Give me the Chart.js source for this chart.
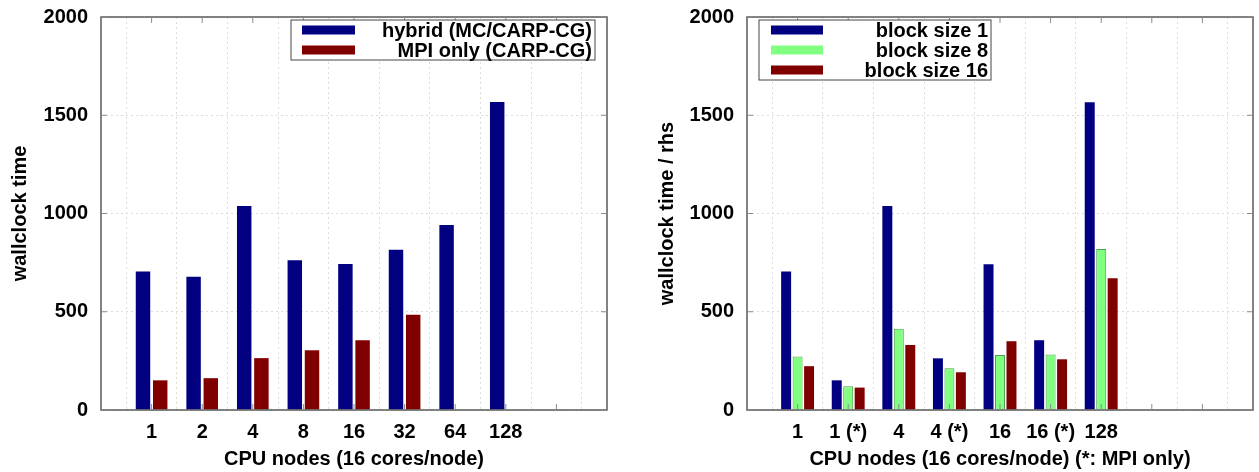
<!DOCTYPE html>
<html>
<head>
<meta charset="utf-8">
<title>Wallclock time per CPU nodes</title>
<script src="https://cdn.jsdelivr.net/npm/chart.js@4.4.1/dist/chart.umd.min.js"></script>
<style>
    html, body { margin: 0; padding: 0; background: #ffffff; }
    .panel { position: absolute; top: 0; height: 472px; }
    #leftPanel { left: 0; width: 620px; }
    #rightPanel { left: 630px; width: 629px; }
</style>
</head>
<body>
<div class="panel" id="leftPanel"><canvas id="hybridChart"></canvas></div>
<div class="panel" id="rightPanel"><canvas id="blockChart"></canvas></div>

<script>
// Left panel data
const nodeLabels = ['1', '2', '4', '8', '16', '32', '64', '128'];
const hybridTimes = [705, 678, 1038, 762, 743, 816, 942, 1567];
const mpiOnlyTimes = [151, 162, 264, 304, 355, 485, 0, 0];

// Right panel data
const blockLabels = ['1', '1 (*)', '4', '4 (*)', '16', '16 (*)', '128'];
const blockSize1 = [705, 151, 1038, 263, 742, 355, 1566];
const blockSize8 = [272, 121, 413, 212, 280, 282, 819];
const blockSize16 = [223, 114, 331, 192, 350, 258, 671];

// Shared y ticks
const yTickValues = [0, 500, 1000, 1500, 2000];

const NAVY = '#000080';
const MAROON = '#800000';
const LIGHT_GREEN = '#80ff80';
const FONT_FAMILY = '"Liberation Sans", Arial, Helvetica, sans-serif';

// x positions run 0..10 like the gnuplot axis, first group sits at 1
function padLabels(labels) {
    const out = [''].concat(labels);
    while (out.length < 11) out.push('');
    return out;
}

function padValues(values) {
    return [null].concat(values);
}

// Frame round the plot area with small inward ticks
const plotFrame = {
    id: 'plotFrame',
    afterDatasetsDraw(chart) {
        const { ctx, chartArea } = chart;
        const yScale = chart.scales.y;
        const xScale = chart.scales.x;
        ctx.save();
        ctx.strokeStyle = '#5a5a5a';
        ctx.lineWidth = 1.5;
        ctx.strokeRect(chartArea.left, chartArea.top, chartArea.right - chartArea.left, chartArea.bottom - chartArea.top);

        ctx.lineWidth = 1;
        ctx.strokeStyle = '#8a8a8a';
        ctx.beginPath();
        yTickValues.forEach(v => {
            const py = yScale.getPixelForValue(v);
            ctx.moveTo(chartArea.left, py);
            ctx.lineTo(chartArea.left + 6, py);
            ctx.moveTo(chartArea.right, py);
            ctx.lineTo(chartArea.right - 6, py);
        });
        for (let i = 1; i < 10; i++) {
            const px = xScale.getPixelForValue(i);
            ctx.moveTo(px, chartArea.bottom);
            ctx.lineTo(px, chartArea.bottom - 6);
            ctx.moveTo(px, chartArea.top);
            ctx.lineTo(px, chartArea.top + 6);
        }
        ctx.stroke();
        ctx.restore();
    }
};

// Boxed legend drawn inside the plot area
const boxedLegend = {
    id: 'boxedLegend',
    afterDraw(chart, args, opts) {
        const { ctx, chartArea } = chart;
        const datasets = chart.data.datasets;
        const x0 = opts.side === 'right'
            ? chartArea.right - opts.offsetX - opts.width
            : chartArea.left + opts.offsetX;
        const y0 = chartArea.top + opts.offsetY;
        const h = datasets.length * opts.rowHeight;

        ctx.save();
        ctx.fillStyle = '#ffffff';
        ctx.fillRect(x0, y0, opts.width, h);
        ctx.strokeStyle = '#444444';
        ctx.lineWidth = 1;
        ctx.strokeRect(x0, y0, opts.width, h);

        ctx.font = 'bold ' + opts.fontSize + 'px ' + FONT_FAMILY;
        ctx.textAlign = 'right';
        ctx.textBaseline = 'middle';
        datasets.forEach((ds, i) => {
            const cy = y0 + opts.rowHeight * (i + 0.5);
            ctx.fillStyle = ds.backgroundColor;
            ctx.fillRect(x0 + opts.swatchX, cy - opts.swatchH / 2, opts.swatchW, opts.swatchH);
            ctx.fillStyle = '#000000';
            ctx.fillText(ds.label, x0 + opts.width - 3, cy + 1);
        });
        ctx.restore();
    }
};

function buildOptions(cfg) {
    return {
        responsive: true,
        maintainAspectRatio: false,
        animation: false,
        layout: {
            padding: { top: 17, right: cfg.padRight, bottom: 0, left: 0 }
        },
        datasets: {
            bar: {
                categoryPercentage: cfg.categoryPercentage,
                barPercentage: cfg.barPercentage
            }
        },
        plugins: {
            legend: { display: false },
            tooltip: { enabled: false },
            boxedLegend: cfg.legend
        },
        scales: {
            x: {
                type: 'category',
                offset: false,
                grid: {
                    color: '#dcdcdc',
                    lineWidth: 1,
                    drawTicks: false
                },
                border: { display: false, dash: [2, 3] },
                ticks: {
                    color: '#000000',
                    padding: 10,
                    maxRotation: 0,
                    autoSkip: false,
                    font: { family: FONT_FAMILY, size: 20, weight: 'bold' }
                },
                title: {
                    display: true,
                    text: cfg.xTitle,
                    color: '#000000',
                    padding: { top: 4, bottom: 1 },
                    font: { family: FONT_FAMILY, size: 20, weight: 'bold' }
                },
                afterFit(scale) {
                    scale.height = 62;
                    scale.paddingLeft = 0;
                    scale.paddingRight = 0;
                }
            },
            y: {
                min: 0,
                max: 2000,
                grid: {
                    color: '#dcdcdc',
                    lineWidth: 1,
                    drawTicks: false
                },
                border: { display: false, dash: [2, 3] },
                ticks: {
                    stepSize: 500,
                    color: '#000000',
                    padding: 13,
                    callback: value => String(value),
                    font: { family: FONT_FAMILY, size: 20, weight: 'bold' }
                },
                title: {
                    display: true,
                    text: cfg.yTitle,
                    color: '#000000',
                    padding: { top: cfg.yTitlePad, bottom: 0 },
                    font: { family: FONT_FAMILY, size: 20, weight: 'bold' }
                },
                afterFit(scale) {
                    scale.width = cfg.yAxisWidth;
                    // let the top tick label stick out above the plot frame
                    scale.paddingTop = 0;
                    scale.paddingBottom = 0;
                }
            }
        }
    };
}

document.addEventListener('DOMContentLoaded', () => {
    // Left: hybrid vs MPI only
    new Chart(document.getElementById('hybridChart'), {
        type: 'bar',
        data: {
            labels: padLabels(nodeLabels),
            datasets: [
                { label: 'hybrid (MC/CARP-CG)', data: padValues(hybridTimes), backgroundColor: NAVY },
                { label: 'MPI only (CARP-CG)', data: padValues(mpiOnlyTimes), backgroundColor: MAROON }
            ]
        },
        options: buildOptions({
            padRight: 13,
            yAxisWidth: 101,
            yTitlePad: 8,
            categoryPercentage: 0.68,
            barPercentage: 0.84,
            xTitle: 'CPU nodes (16 cores/node)',
            yTitle: 'wallclock time',
            legend: {
                side: 'right', offsetX: 12, offsetY: 3, width: 304,
                rowHeight: 20, swatchX: 11, swatchW: 53, swatchH: 9, fontSize: 20
            }
        }),
        plugins: [plotFrame, boxedLegend]
    });

    // Right: block sizes
    new Chart(document.getElementById('blockChart'), {
        type: 'bar',
        data: {
            labels: padLabels(blockLabels),
            datasets: [
                { label: 'block size 1', data: padValues(blockSize1), backgroundColor: NAVY },
                { label: 'block size 8', data: padValues(blockSize8), backgroundColor: LIGHT_GREEN, borderColor: '#4f9f4f', borderWidth: 1 },
                { label: 'block size 16', data: padValues(blockSize16), backgroundColor: MAROON }
            ]
        },
        options: buildOptions({
            padRight: 6,
            yAxisWidth: 117,
            yTitlePad: 25,
            categoryPercentage: 0.68,
            barPercentage: 0.87,
            xTitle: 'CPU nodes (16 cores/node) (*: MPI only)',
            yTitle: 'wallclock time / rhs',
            legend: {
                side: 'left', offsetX: 12, offsetY: 3, width: 232,
                rowHeight: 20, swatchX: 12, swatchW: 52, swatchH: 9, fontSize: 20
            }
        }),
        plugins: [plotFrame, boxedLegend]
    });
});
</script>
</body>
</html>
